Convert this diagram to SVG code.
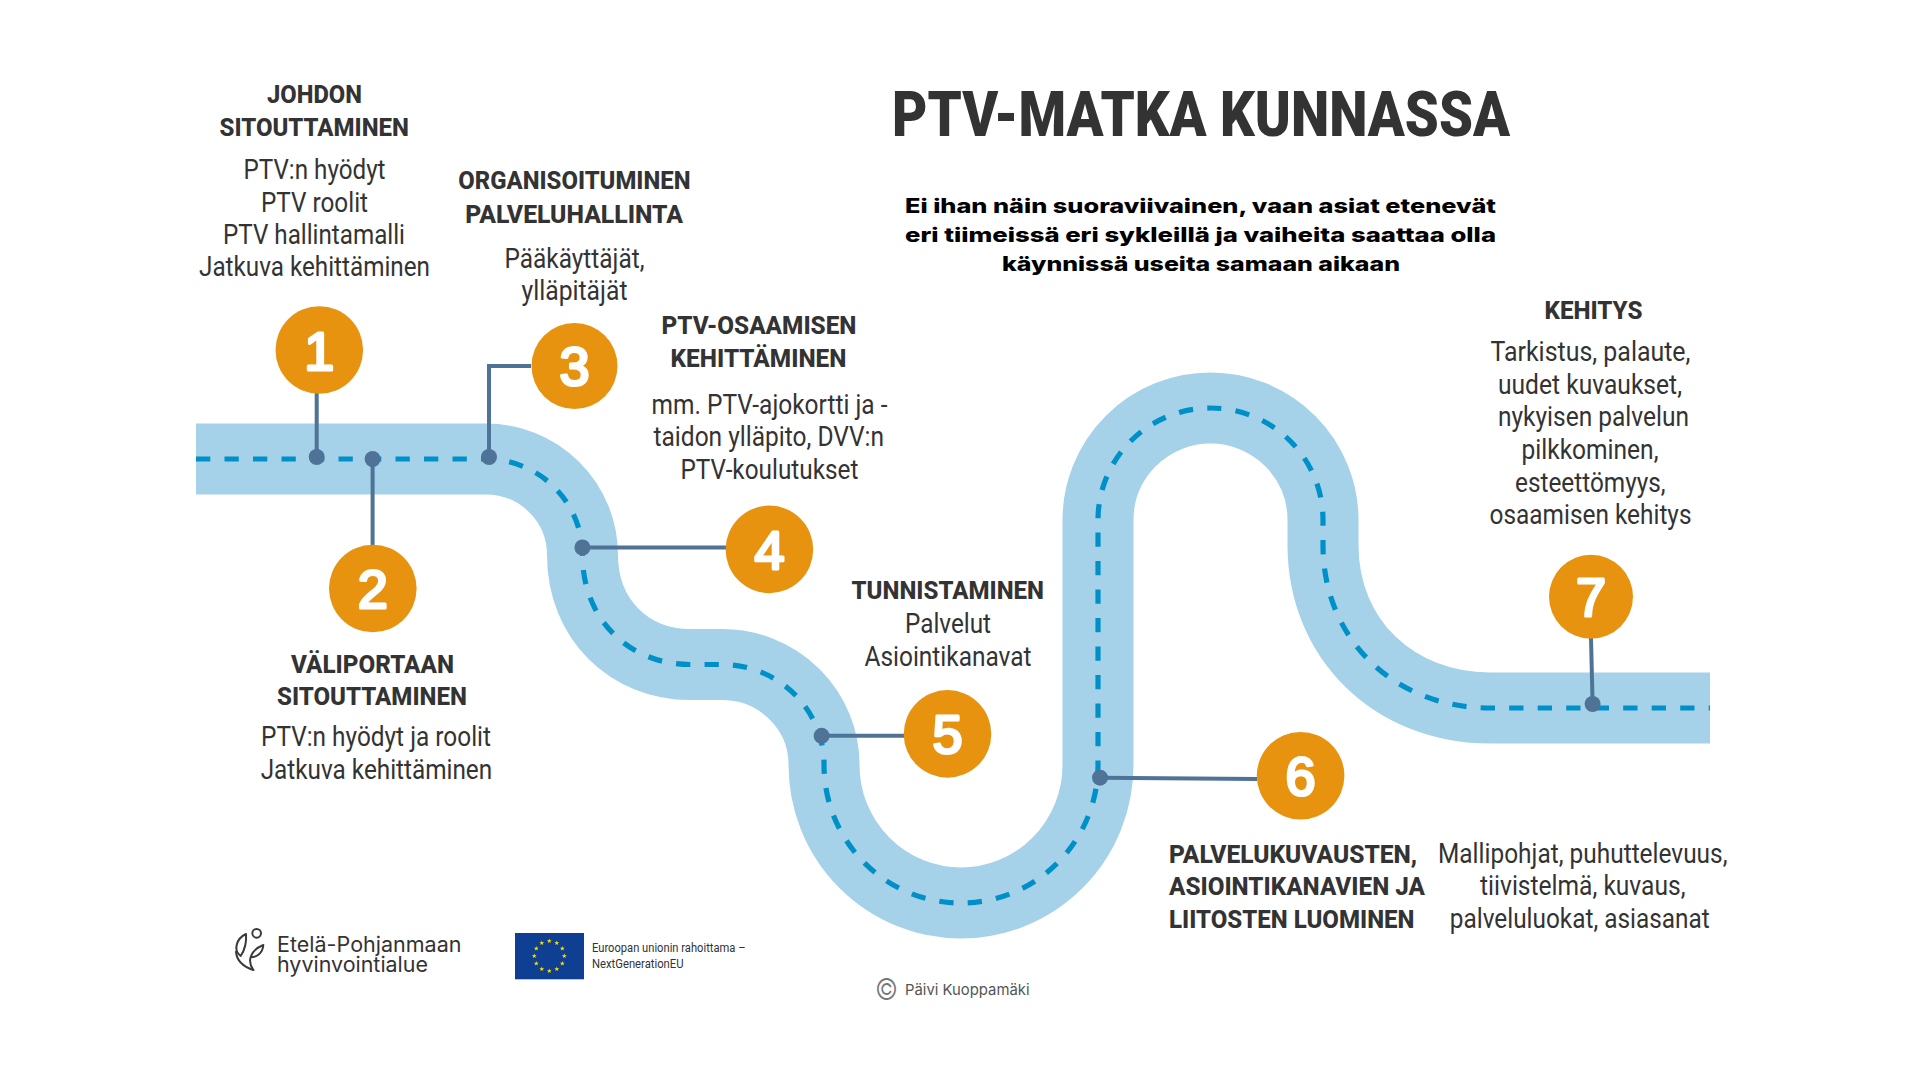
<svg xmlns="http://www.w3.org/2000/svg" xmlns:xlink="http://www.w3.org/1999/xlink" width="1920" height="1080" viewBox="0 0 1920 1080">
<style>
text{font-family:Roboto,"Liberation Sans",sans-serif;fill:#333;}
.h{font-size:26.500px;font-weight:800;}
.b{font-size:27px;font-weight:400;}
.s{font-family:Inter,"Liberation Sans",sans-serif;font-size:20px;font-weight:800;fill:#000;}
.l{font-family:Inter,"Liberation Sans",sans-serif;font-size:21px;font-weight:400;}
.e{font-size:12px;font-weight:400;}
.c{fill:#e79310;}
.n{font-family:"Liberation Sans",Arial,sans-serif;font-size:54px;font-weight:400;fill:#fff;stroke:#fff;stroke-width:3;stroke-linejoin:round;text-anchor:middle;}
.cn{fill:none;stroke:#4f7396;stroke-width:4;}
.d{fill:#4f7396;}
</style>
<defs>
<polygon id="star" points="0,-2.6 0.6,-0.8 2.5,-0.8 1,0.3 1.5,2.1 0,1 -1.5,2.1 -1,0.3 -2.5,-0.8 -0.6,-0.8" fill="#ffe200"/>
</defs>
<rect width="1920" height="1080" fill="#fff"/>
<g id="river" fill="none">
<path id="riverBody" stroke="#a5d2e8" stroke-width="71" d="M196 459H486A96.500 96 0 0 1 582.500 555C582.500 620 630 664.500 690 664.500H722A102 100 0 0 1 824 765A137 138 0 0 0 1098 765V520A112.500 112 0 0 1 1323 520V545C1323 640 1395 708 1490 708H1710"/>
<path id="riverDash" stroke="#0090c8" stroke-width="5.200" stroke-dasharray="14.300 14.200" d="M196 459H486A96.500 96 0 0 1 582.500 555C582.500 620 630 664.500 690 664.500H722A102 100 0 0 1 824 765A137 138 0 0 0 1098 765V520A112.500 112 0 0 1 1323 520V545C1323 640 1395 708 1490 708H1710"/>
</g>
<g id="connectors">
<path class="cn" d="M316.700 393V457"/><circle class="d" cx="316.700" cy="457" r="8"/>
<path class="cn" d="M372.600 545V459"/><circle class="d" cx="372.600" cy="459" r="8"/>
<path class="cn" d="M531 366H489V457"/><circle class="d" cx="489" cy="457" r="8"/>
<path class="cn" d="M726 547.500H582.400"/><circle class="d" cx="582.400" cy="547.500" r="8"/>
<path class="cn" d="M904 735.800H821.600"/><circle class="d" cx="821.600" cy="735.800" r="8"/>
<path class="cn" d="M1257 779L1100 777.700"/><circle class="d" cx="1100" cy="777.700" r="8"/>
<path class="cn" d="M1591 638L1592.600 704"/><circle class="d" cx="1592.600" cy="704" r="8"/>
</g>
<g id="title">
<text x="892" y="135.700" font-size="63" font-weight="900" textLength="618" lengthAdjust="spacingAndGlyphs">PTV-MATKA KUNNASSA</text>
<text class="s" x="905" y="212.700" textLength="591" lengthAdjust="spacingAndGlyphs">Ei ihan näin suoraviivainen, vaan asiat etenevät</text>
<text class="s" x="905" y="242" textLength="591" lengthAdjust="spacingAndGlyphs">eri tiimeissä eri sykleillä ja vaiheita saattaa olla</text>
<text class="s" x="1002" y="271" textLength="398" lengthAdjust="spacingAndGlyphs">käynnissä useita samaan aikaan</text>
</g>
<g id="node1">
<circle class="c" cx="319.300" cy="350" r="43.800"/><text class="n" x="319.300" y="369.500">1</text>
<text class="h" x="267" y="102.700" textLength="95" lengthAdjust="spacingAndGlyphs">JOHDON</text>
<text class="h" x="219.500" y="135.700" textLength="189.500" lengthAdjust="spacingAndGlyphs">SITOUTTAMINEN</text>
<text class="b" x="243.500" y="179" textLength="142" lengthAdjust="spacingAndGlyphs">PTV:n hyödyt</text>
<text class="b" x="261" y="212" textLength="107" lengthAdjust="spacingAndGlyphs">PTV roolit</text>
<text class="b" x="223" y="244" textLength="182" lengthAdjust="spacingAndGlyphs">PTV hallintamalli</text>
<text class="b" x="199" y="276" textLength="231" lengthAdjust="spacingAndGlyphs">Jatkuva kehittäminen</text>
</g>
<g id="node2">
<circle class="c" cx="372.800" cy="588.500" r="43.800"/><text class="n" x="372.800" y="607.500">2</text>
<text class="h" x="291" y="672.700" textLength="163" lengthAdjust="spacingAndGlyphs">VÄLIPORTAAN</text>
<text class="h" x="277" y="705" textLength="190" lengthAdjust="spacingAndGlyphs">SITOUTTAMINEN</text>
<text class="b" x="261" y="746" textLength="230" lengthAdjust="spacingAndGlyphs">PTV:n hyödyt ja roolit</text>
<text class="b" x="260.700" y="778.700" textLength="231.500" lengthAdjust="spacingAndGlyphs">Jatkuva kehittäminen</text>
</g>
<g id="node3">
<circle class="c" cx="574.500" cy="366" r="43"/><text class="n" x="574.500" y="385">3</text>
<text class="h" x="458.300" y="189" textLength="232.200" lengthAdjust="spacingAndGlyphs">ORGANISOITUMINEN</text>
<text class="h" x="465.200" y="222.700" textLength="217.800" lengthAdjust="spacingAndGlyphs">PALVELUHALLINTA</text>
<text class="b" x="504.500" y="268" textLength="140" lengthAdjust="spacingAndGlyphs">Pääkäyttäjät,</text>
<text class="b" x="521.500" y="300" textLength="106" lengthAdjust="spacingAndGlyphs">ylläpitäjät</text>
</g>
<g id="node4">
<circle class="c" cx="769.400" cy="549.400" r="43.800"/><text class="n" x="769.400" y="568.500">4</text>
<text class="h" x="661.500" y="334" textLength="195" lengthAdjust="spacingAndGlyphs">PTV-OSAAMISEN</text>
<text class="h" x="670.500" y="366.700" textLength="176" lengthAdjust="spacingAndGlyphs">KEHITTÄMINEN</text>
<text class="b" x="651.500" y="413.600" textLength="236" lengthAdjust="spacingAndGlyphs">mm. PTV-ajokortti ja -</text>
<text class="b" x="653.500" y="446" textLength="230.500" lengthAdjust="spacingAndGlyphs">taidon ylläpito, DVV:n</text>
<text class="b" x="680.500" y="479.400" textLength="178" lengthAdjust="spacingAndGlyphs">PTV-koulutukset</text>
</g>
<g id="node5">
<circle class="c" cx="947.500" cy="733.900" r="43.800"/><text class="n" x="947.500" y="752.500">5</text>
<text class="h" x="851.500" y="599" textLength="192.500" lengthAdjust="spacingAndGlyphs">TUNNISTAMINEN</text>
<text class="b" x="905" y="632.500" textLength="86" lengthAdjust="spacingAndGlyphs">Palvelut</text>
<text class="b" x="864.500" y="666" textLength="167" lengthAdjust="spacingAndGlyphs">Asiointikanavat</text>
</g>
<g id="node6">
<circle class="c" cx="1300.600" cy="775.700" r="43.800"/><text class="n" x="1300.600" y="795">6</text>
<text class="h" x="1169" y="863" textLength="248.200" lengthAdjust="spacingAndGlyphs">PALVELUKUVAUSTEN,</text>
<text class="h" x="1169" y="895" textLength="256" lengthAdjust="spacingAndGlyphs">ASIOINTIKANAVIEN JA</text>
<text class="h" x="1169" y="927.700" textLength="245.500" lengthAdjust="spacingAndGlyphs">LIITOSTEN LUOMINEN</text>
<text class="b" x="1438" y="862.700" textLength="289.500" lengthAdjust="spacingAndGlyphs">Mallipohjat, puhuttelevuus,</text>
<text class="b" x="1480" y="894.500" textLength="205.500" lengthAdjust="spacingAndGlyphs">tiivistelmä, kuvaus,</text>
<text class="b" x="1449.800" y="928" textLength="260" lengthAdjust="spacingAndGlyphs">palveluluokat, asiasanat</text>
</g>
<g id="node7">
<circle class="c" cx="1591" cy="596.700" r="42"/><text class="n" x="1591" y="615.500">7</text>
<text class="h" x="1544.500" y="319" textLength="98" lengthAdjust="spacingAndGlyphs">KEHITYS</text>
<text class="b" x="1490.500" y="361" textLength="200" lengthAdjust="spacingAndGlyphs">Tarkistus, palaute,</text>
<text class="b" x="1498" y="394" textLength="184" lengthAdjust="spacingAndGlyphs">uudet kuvaukset,</text>
<text class="b" x="1498" y="426" textLength="191" lengthAdjust="spacingAndGlyphs">nykyisen palvelun</text>
<text class="b" x="1521.500" y="459" textLength="137" lengthAdjust="spacingAndGlyphs">pilkkominen,</text>
<text class="b" x="1515" y="491.500" textLength="150.500" lengthAdjust="spacingAndGlyphs">esteettömyys,</text>
<text class="b" x="1489.500" y="524" textLength="202" lengthAdjust="spacingAndGlyphs">osaamisen kehitys</text>
</g>
<g id="logos">
<g transform="translate(220 920) scale(0.3333)" fill="none" stroke="#3a3a3a" stroke-width="6" stroke-linecap="round" stroke-linejoin="round">
<circle cx="110" cy="40" r="13"/>
<path d="M78 42C50 55 38 90 62 108C74 90 80 65 78 42Z"/>
<path d="M100 150C70 140 50 125 48 95"/>
<path d="M100 150C82 125 88 92 130 75C128 100 110 112 92 112"/>
</g>
<text class="l" x="277" y="951.500" textLength="184.500" lengthAdjust="spacingAndGlyphs">Etelä-Pohjanmaan</text>
<text class="l" x="277" y="971.500" textLength="151" lengthAdjust="spacingAndGlyphs">hyvinvointialue</text>
<rect x="515" y="933" width="69" height="46.300" fill="#0f3f93"/>
<use xlink:href="#star" x="549.300" y="941"/><use xlink:href="#star" x="556.800" y="943"/><use xlink:href="#star" x="562.300" y="948.500"/><use xlink:href="#star" x="564.300" y="956"/><use xlink:href="#star" x="562.300" y="963.500"/><use xlink:href="#star" x="556.800" y="969"/><use xlink:href="#star" x="549.300" y="971"/><use xlink:href="#star" x="541.800" y="969"/><use xlink:href="#star" x="536.300" y="963.500"/><use xlink:href="#star" x="534.300" y="956"/><use xlink:href="#star" x="536.300" y="948.500"/><use xlink:href="#star" x="541.800" y="943"/>
<text class="e" x="592" y="952.200" textLength="153.500" lengthAdjust="spacingAndGlyphs">Euroopan unionin rahoittama –</text>
<text class="e" x="592" y="967.500" textLength="91.500" lengthAdjust="spacingAndGlyphs">NextGenerationEU</text>
<text x="875" y="999.500" font-size="30" font-weight="300" style="font-family:Inter,'Liberation Sans',sans-serif;fill:#777" textLength="23" lengthAdjust="spacingAndGlyphs">©</text>
<text x="905" y="995" font-size="15" style="font-family:Inter,'Liberation Sans',sans-serif;fill:#555" textLength="124.600" lengthAdjust="spacingAndGlyphs">Päivi Kuoppamäki</text>
</g>
</svg>
